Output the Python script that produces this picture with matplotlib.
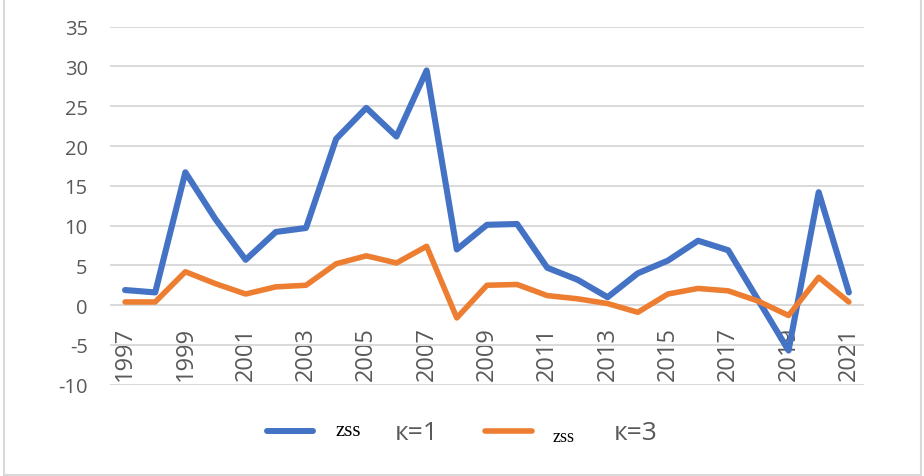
import matplotlib
matplotlib.use('Agg')
import matplotlib.pyplot as plt
from matplotlib.lines import Line2D
import numpy as np

plt.rcParams['axes.unicode_minus'] = False

years = list(range(1997, 2022))
zss_k1 = [1.9, 1.6, 16.7, 10.8, 5.7, 9.2, 9.7, 20.9, 24.8, 21.2, 29.5, 7.0,
          10.1, 10.2, 4.7, 3.2, 1.0, 4.0, 5.6, 8.1, 6.9, 0.6, -5.7, 14.2, 1.6]
zss_k3 = [0.4, 0.4, 4.2, 2.7, 1.4, 2.3, 2.5, 5.2, 6.2, 5.3, 7.4, -1.6,
          2.5, 2.6, 1.2, 0.8, 0.2, -0.9, 1.4, 2.1, 1.8, 0.5, -1.3, 3.5, 0.4]
yticks = list(range(-10, 40, 5))

BLUE = '#4472C4'
ORANGE = '#ED7D31'
GREY = '#595959'
GRID = '#d9d9d9'

fig = plt.figure(figsize=(9.24, 4.77), dpi=100)
ax = fig.add_axes([0.119, 0.1914, 0.816, 0.7505])

ax.plot(years, zss_k1, color=BLUE, lw=4.4, solid_joinstyle='round',
        solid_capstyle='round', zorder=3)
ax.plot(years, zss_k3, color=ORANGE, lw=4.0, solid_joinstyle='round',
        solid_capstyle='round', zorder=3)

ax.set_xlim(1996.5, 2021.5)
ax.set_ylim(-10, 35)
ax.set_yticks(yticks)
ax.yaxis.grid(True, color=GRID, lw=1.4)
ax.set_axisbelow(True)

# category labels sit just under the zero line, like Excel
ax.spines['bottom'].set_position(('data', 0))
for s in ax.spines.values():
    s.set_visible(False)
ax.set_xticks(years[::2])
ax.set_xticklabels([str(y) for y in years[::2]], rotation=90,
                   fontsize=17, color=GREY, family='Open Sans', va='top')
ax.tick_params(axis='x', length=0, pad=15)
ax.tick_params(axis='y', length=0, pad=16, labelsize=14.5, labelcolor=GREY)
for lab in ax.get_yticklabels():
    lab.set_family('Open Sans')

# legend drawn by hand (mixed fonts in labels)
ly = 0.095
fig.add_artist(Line2D([267 / 924, 313 / 924], [ly, ly], color=BLUE, lw=4.3,
                      solid_capstyle='round'))
fig.text(335 / 924, ly, 'zss', family='Liberation Serif', fontsize=15,
         color='black', va='center')
fig.text(395 / 924, ly - 0.003, 'к=1', family='Open Sans', fontsize=19,
         color=GREY, va='center')
fig.add_artist(Line2D([485 / 924, 532 / 924], [ly, ly], color=ORANGE, lw=4.0,
                      solid_capstyle='round'))
fig.text(553 / 924, ly - 0.012, 'zss', family='Liberation Serif', fontsize=13,
         color='black', va='center')
fig.text(614 / 924, ly - 0.003, 'к=3', family='Open Sans', fontsize=19,
         color=GREY, va='center')

# outer chart border
fig.add_artist(Line2D([4 / 924, 4 / 924], [1.01, 1.5 / 477], color=GRID, lw=1.5))
fig.add_artist(Line2D([4 / 924, 920.5 / 924], [1.5 / 477, 1.5 / 477], color=GRID, lw=1.5))
fig.add_artist(Line2D([920.5 / 924, 920.5 / 924], [1.5 / 477, 1.01], color=GRID, lw=1.5))

fig.savefig('out.png', dpi=100)
